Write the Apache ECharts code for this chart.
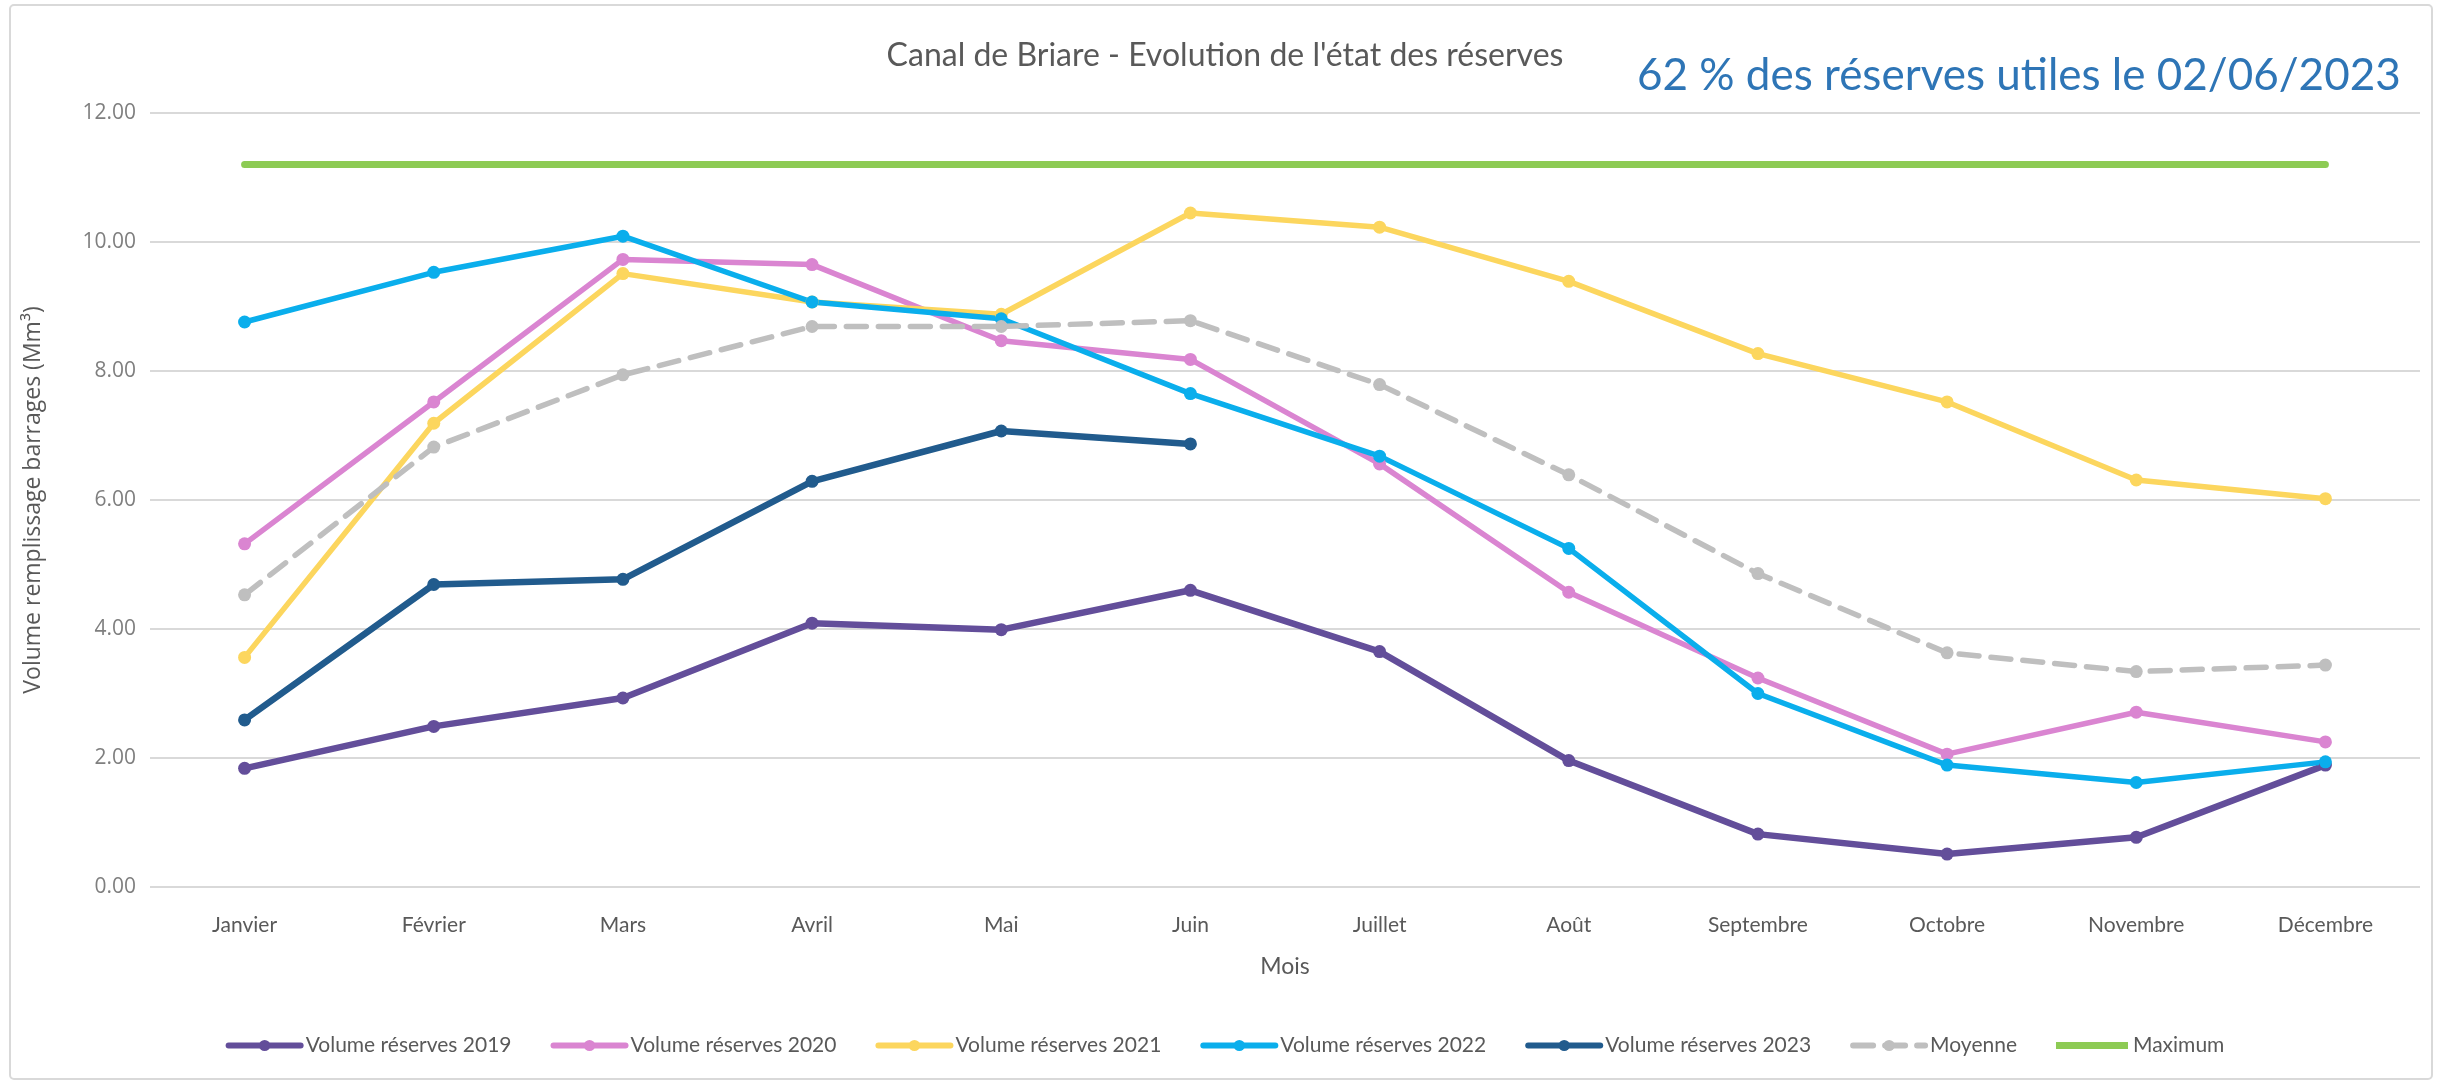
<!DOCTYPE html>
<html>
<head>
<meta charset="utf-8">
<script src="https://cdn.jsdelivr.net/npm/echarts@6/dist/echarts.min.js"></script>
<style>
html,body{margin:0;padding:0;background:#fff;}
#chart{width:2450px;height:1081px;}
</style>
</head>
<body>
<div id="chart"></div>
<script>
const months = ['Janvier','Février','Mars','Avril','Mai','Juin','Juillet','Août','Septembre','Octobre','Novembre','Décembre'];
const vol2019 = [1.84, 2.49, 2.93, 4.09, 3.99, 4.60, 3.65, 1.96, 0.82, 0.51, 0.77, 1.89];
const vol2020 = [5.32, 7.52, 9.73, 9.65, 8.47, 8.18, 6.56, 4.57, 3.24, 2.06, 2.71, 2.25];
const vol2021 = [3.56, 7.19, 9.51, 9.07, 8.88, 10.45, 10.23, 9.39, 8.27, 7.52, 6.31, 6.02];
const vol2022 = [8.76, 9.53, 10.09, 9.07, 8.81, 7.65, 6.68, 5.25, 3.00, 1.89, 1.62, 1.94];
const vol2023 = [2.59, 4.69, 4.77, 6.29, 7.07, 6.87];
const moyenne = [4.53, 6.82, 7.94, 8.69, 8.69, 8.78, 7.79, 6.39, 4.86, 3.63, 3.34, 3.44];
const maximum = [11.2, 11.2, 11.2, 11.2, 11.2, 11.2, 11.2, 11.2, 11.2, 11.2, 11.2, 11.2];
const yTicks = { min: 0, max: 12, interval: 2 };

const chart = echarts.init(document.getElementById('chart'), null, { renderer: 'canvas' });

function lineSeries(name, data, color, width, dashed, symbol) {
  return {
    name: name,
    type: 'line',
    data: data,
    symbol: symbol === false ? 'none' : 'circle',
    symbolSize: 13,
    showSymbol: symbol !== false,
    lineStyle: { color: color, width: width, type: dashed ? [20, 12] : 'solid', cap: 'round' },
    itemStyle: { color: color, borderWidth: 0 },
    emphasis: { disabled: true },
    animation: false
  };
}

chart.setOption({
  backgroundColor: '#ffffff',
  animation: false,
  graphic: [{
    type: 'rect',
    shape: { x: 10, y: 5, width: 2422, height: 1074, r: 4 },
    style: { fill: 'none', stroke: '#d9d9d9', lineWidth: 2 },
    silent: true, z: -10
  }],
  title: [{
    text: "Canal de Briare - Evolution de l'état des réserves",
    left: 'center',
    top: 35,
    textStyle: { fontFamily: 'Lato', fontSize: 32, fontWeight: 'normal', color: '#595959' }
  }, {
    text: '62 % des réserves utiles le 02/06/2023',
    left: 1632,
    top: 49,
    textStyle: { fontFamily: 'Lato', fontSize: 44, fontWeight: 'normal', color: '#2E75B6' }
  }],
  legend: {
    left: 'center',
    top: 1030,
    itemWidth: 72,
    itemHeight: 14,
    itemGap: 39,
    lineStyle: { width: 6 },
    textStyle: { fontFamily: 'Lato', fontSize: 21, color: '#595959' },
    data: ['Volume réserves 2019','Volume réserves 2020','Volume réserves 2021','Volume réserves 2022','Volume réserves 2023','Moyenne',
      { name: 'Maximum', icon: 'path://M0,0L0,0M0,3.5L72,3.5L72,10.5L0,10.5ZM72,14L72,14' }]
  },
  grid: { left: 150, right: 30, top: 113, bottom: 194, containLabel: false },
  xAxis: {
    type: 'category',
    data: months,
    boundaryGap: true,
    name: 'Mois',
    nameLocation: 'middle',
    nameGap: 68,
    nameTextStyle: { fontFamily: 'Lato', fontSize: 23, color: '#595959' },
    axisLine: { show: false },
    axisTick: { show: false },
    axisLabel: { fontFamily: 'Lato', fontSize: 21, color: '#595959', margin: 28 }
  },
  yAxis: {
    type: 'value',
    min: yTicks.min,
    max: yTicks.max,
    interval: yTicks.interval,
    name: 'Volume remplissage barrages (Mm³)',
    nameLocation: 'middle',
    nameGap: 105,
    nameRotate: 90,
    nameTextStyle: { fontFamily: 'Open Sans', fontSize: 23, color: '#595959' },
    axisLine: { show: false },
    axisTick: { show: false },
    axisLabel: { fontFamily: 'Open Sans', fontSize: 21, color: '#7f7f7f', margin: 14, formatter: v => v.toFixed(2) },
    splitLine: { lineStyle: { color: '#d9d9d9', width: 2 } }
  },
  series: [
    lineSeries('Volume réserves 2019', vol2019, '#634E9A', 6.5, false),
    lineSeries('Volume réserves 2020', vol2020, '#DA85D1', 5.5, false),
    lineSeries('Volume réserves 2021', vol2021, '#FCD65E', 5.5, false),
    lineSeries('Volume réserves 2022', vol2022, '#0AAEEC', 5.5, false),
    lineSeries('Volume réserves 2023', vol2023, '#215B8D', 6.5, false),
    lineSeries('Moyenne', moyenne, '#BFBFBF', 5.5, true),
    lineSeries('Maximum', maximum, '#8DCB54', 7, false, false)
  ]
});
</script>
</body>
</html>
